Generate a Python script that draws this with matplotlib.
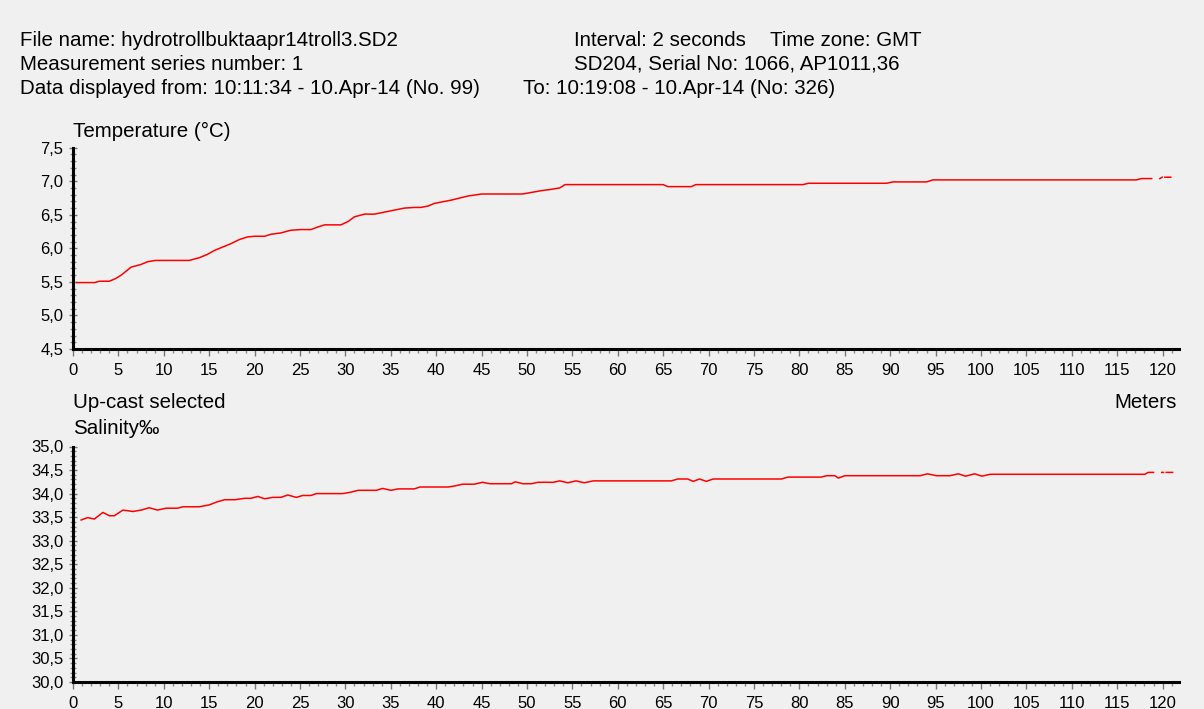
import numpy as np
import matplotlib
matplotlib.use("Agg")
import matplotlib.pyplot as plt
from matplotlib.ticker import MultipleLocator, FuncFormatter

plt.rcParams['font.family'] = ['Liberation Sans', 'DejaVu Sans']

# header texts
header_left = ["File name: hydrotrollbuktaapr14troll3.SD2",
               "Measurement series number: 1",
               "Data displayed from: 10:11:34 - 10.Apr-14 (No. 99)"]
header_right = ["Interval: 2 seconds", "SD204, Serial No: 1066, AP1011,36"]
header_tz = "Time zone: GMT"
header_to = "To: 10:19:08 - 10.Apr-14 (No: 326)"

# temperature profile (depth in meters, NaN = gap in record)
nan = np.nan
temp_depth = [0.4, 2.4, 2.9, 4.0, 4.7, 5.3, 6.4, 7.5, 8.2, 9.1,
              12.8, 13.9, 14.8, 15.6, 16.5, 17.4, 18.3, 19.2, 20.0, 21.1,
              21.8, 22.9, 24.0, 25.1, 26.2, 27.0, 27.7, 29.5, 30.3, 31.0,
              32.1, 33.2, 34.3, 35.4, 36.5, 37.6, 38.3, 39.1, 39.8, 41.7,
              43.5, 45.0, 49.5, 51.6, 52.7, 53.6, 54.2, 65.0, 65.5, 68.1,
              68.6, 80.4, 81.0, 89.6, 90.3, 94.0, 94.7, 117.1, 117.7, 118.8,
              nan, 119.7, 119.95, nan, 120.25, 120.9]
temp_vals = [5.49, 5.49, 5.51, 5.51, 5.55, 5.60, 5.72, 5.76, 5.80, 5.82,
             5.82, 5.86, 5.91, 5.97, 6.02, 6.07, 6.13, 6.17, 6.18, 6.18,
             6.21, 6.23, 6.27, 6.28, 6.28, 6.32, 6.35, 6.35, 6.40, 6.47,
             6.51, 6.51, 6.54, 6.57, 6.60, 6.61, 6.61, 6.63, 6.67, 6.72,
             6.78, 6.81, 6.81, 6.86, 6.88, 6.90, 6.95, 6.95, 6.92, 6.92,
             6.95, 6.95, 6.97, 6.97, 6.99, 6.99, 7.02, 7.02, 7.04, 7.04,
             nan, 7.04, 7.06, nan, 7.06, 7.06]

# salinity profile
sal_depth = [0.9, 1.6, 2.35, 3.3, 4.0, 4.55, 5.5, 6.6, 7.5, 8.4,
             9.3, 10.25, 11.5, 12.1, 13.9, 15.0, 15.8, 16.7, 17.8, 18.9,
             19.6, 20.35, 21.1, 22.0, 22.9, 23.65, 24.6, 25.3, 26.2, 26.8,
             29.7, 30.6, 31.4, 33.4, 34.1, 35.0, 35.8, 37.6, 38.2, 41.3,
             42.0, 42.9, 44.2, 45.1, 45.9, 48.3, 48.7, 49.55, 50.5, 51.2,
             52.9, 53.6, 54.5, 55.4, 56.3, 57.3, 65.9, 66.6, 67.7, 68.3,
             69.0, 69.75, 70.5, 78.0, 78.75, 82.4, 83.0, 83.9, 84.3, 85.0,
             93.3, 94.1, 95.1, 96.6, 97.5, 98.3, 99.3, 100.1, 101.0, 118.05,
             118.4, 119.0, nan, 119.9, 120.1, nan, 120.4, 121.1]
sal_vals = [33.44, 33.49, 33.46, 33.60, 33.53, 33.53, 33.65, 33.62, 33.65, 33.70,
            33.65, 33.69, 33.69, 33.72, 33.72, 33.76, 33.82, 33.87, 33.87, 33.90,
            33.90, 33.94, 33.89, 33.92, 33.92, 33.97, 33.92, 33.96, 33.96, 34.00,
            34.00, 34.03, 34.07, 34.07, 34.11, 34.07, 34.10, 34.10, 34.14, 34.14,
            34.16, 34.20, 34.20, 34.24, 34.21, 34.21, 34.25, 34.21, 34.21, 34.24,
            34.24, 34.27, 34.23, 34.27, 34.23, 34.27, 34.27, 34.31, 34.31, 34.26,
            34.31, 34.26, 34.31, 34.31, 34.35, 34.35, 34.38, 34.38, 34.33, 34.38,
            34.38, 34.42, 34.38, 34.38, 34.42, 34.37, 34.42, 34.37, 34.41, 34.41,
            34.45, 34.45, nan, 34.45, 34.45, nan, 34.45, 34.45]

W, H = 1204, 709
bg = '#f0f0f0'
txt = 14.8  # size of header / label text
fig = plt.figure(figsize=(W / 100, H / 100), dpi=100, facecolor=bg)


def px(x, y):
    return x / W, 1 - y / H


# header
for i, t in enumerate(header_left):
    fig.text(*px(20, 40 + i * 24.5), t, fontsize=txt, va='center')
for i, t in enumerate(header_right):
    fig.text(*px(574, 40 + i * 24.5), t, fontsize=txt, va='center')
fig.text(*px(770, 40), header_tz, fontsize=txt, va='center')
fig.text(*px(523, 89), header_to, fontsize=txt, va='center')

left = 73 / W
width = 121.8 * 9.08 / W
ax1 = fig.add_axes([left, 1 - 349 / H, width, (349 - 147.7) / H])
ax2 = fig.add_axes([left, 1 - 682 / H, width, (682 - 446.5) / H])

comma = FuncFormatter(lambda v, p: f"{v:.1f}".replace('.', ','))

for ax in (ax1, ax2):
    ax.set_facecolor(bg)
    ax.set_xlim(0, 121.8)
    for s in ('top', 'right'):
        ax.spines[s].set_visible(False)
    ax.spines['left'].set_linewidth(2.2)
    ax.spines['bottom'].set_linewidth(2.2)
    ax.xaxis.set_major_locator(MultipleLocator(5))
    ax.xaxis.set_minor_locator(MultipleLocator(1))
    ax.yaxis.set_major_locator(MultipleLocator(0.5))
    ax.yaxis.set_minor_locator(MultipleLocator(0.1))
    ax.yaxis.set_major_formatter(comma)
    ax.tick_params(axis='x', which='major', direction='out', length=5, width=1,
                   color='#777777', labelsize=12, pad=5)
    ax.tick_params(axis='x', which='minor', direction='out', length=3, width=1,
                   color='#888888')
    ax.tick_params(axis='y', which='major', direction='inout', length=6, width=1,
                   color='#777777', labelsize=12, pad=4)
    ax.tick_params(axis='y', which='minor', direction='inout', length=4, width=1,
                   color='#888888')

ax1.set_ylim(4.5, 7.5)
ax2.set_ylim(30.0, 35.0)

ax1.plot(temp_depth, temp_vals, color='#ff0000', lw=1.1, clip_on=False)
ax2.plot(sal_depth, sal_vals, color='#ff0000', lw=1.1, clip_on=False)

fig.text(*px(73, 131), "Temperature (°C)", fontsize=txt, va='center')
fig.text(*px(73, 403), "Up-cast selected", fontsize=txt, va='center')
fig.text(*px(73, 429), "Salinity‰", fontsize=txt, va='center')
fig.text(*px(1177, 403), "Meters", fontsize=txt, va='center', ha='right')

fig.savefig("out.png", dpi=100, facecolor=bg)
